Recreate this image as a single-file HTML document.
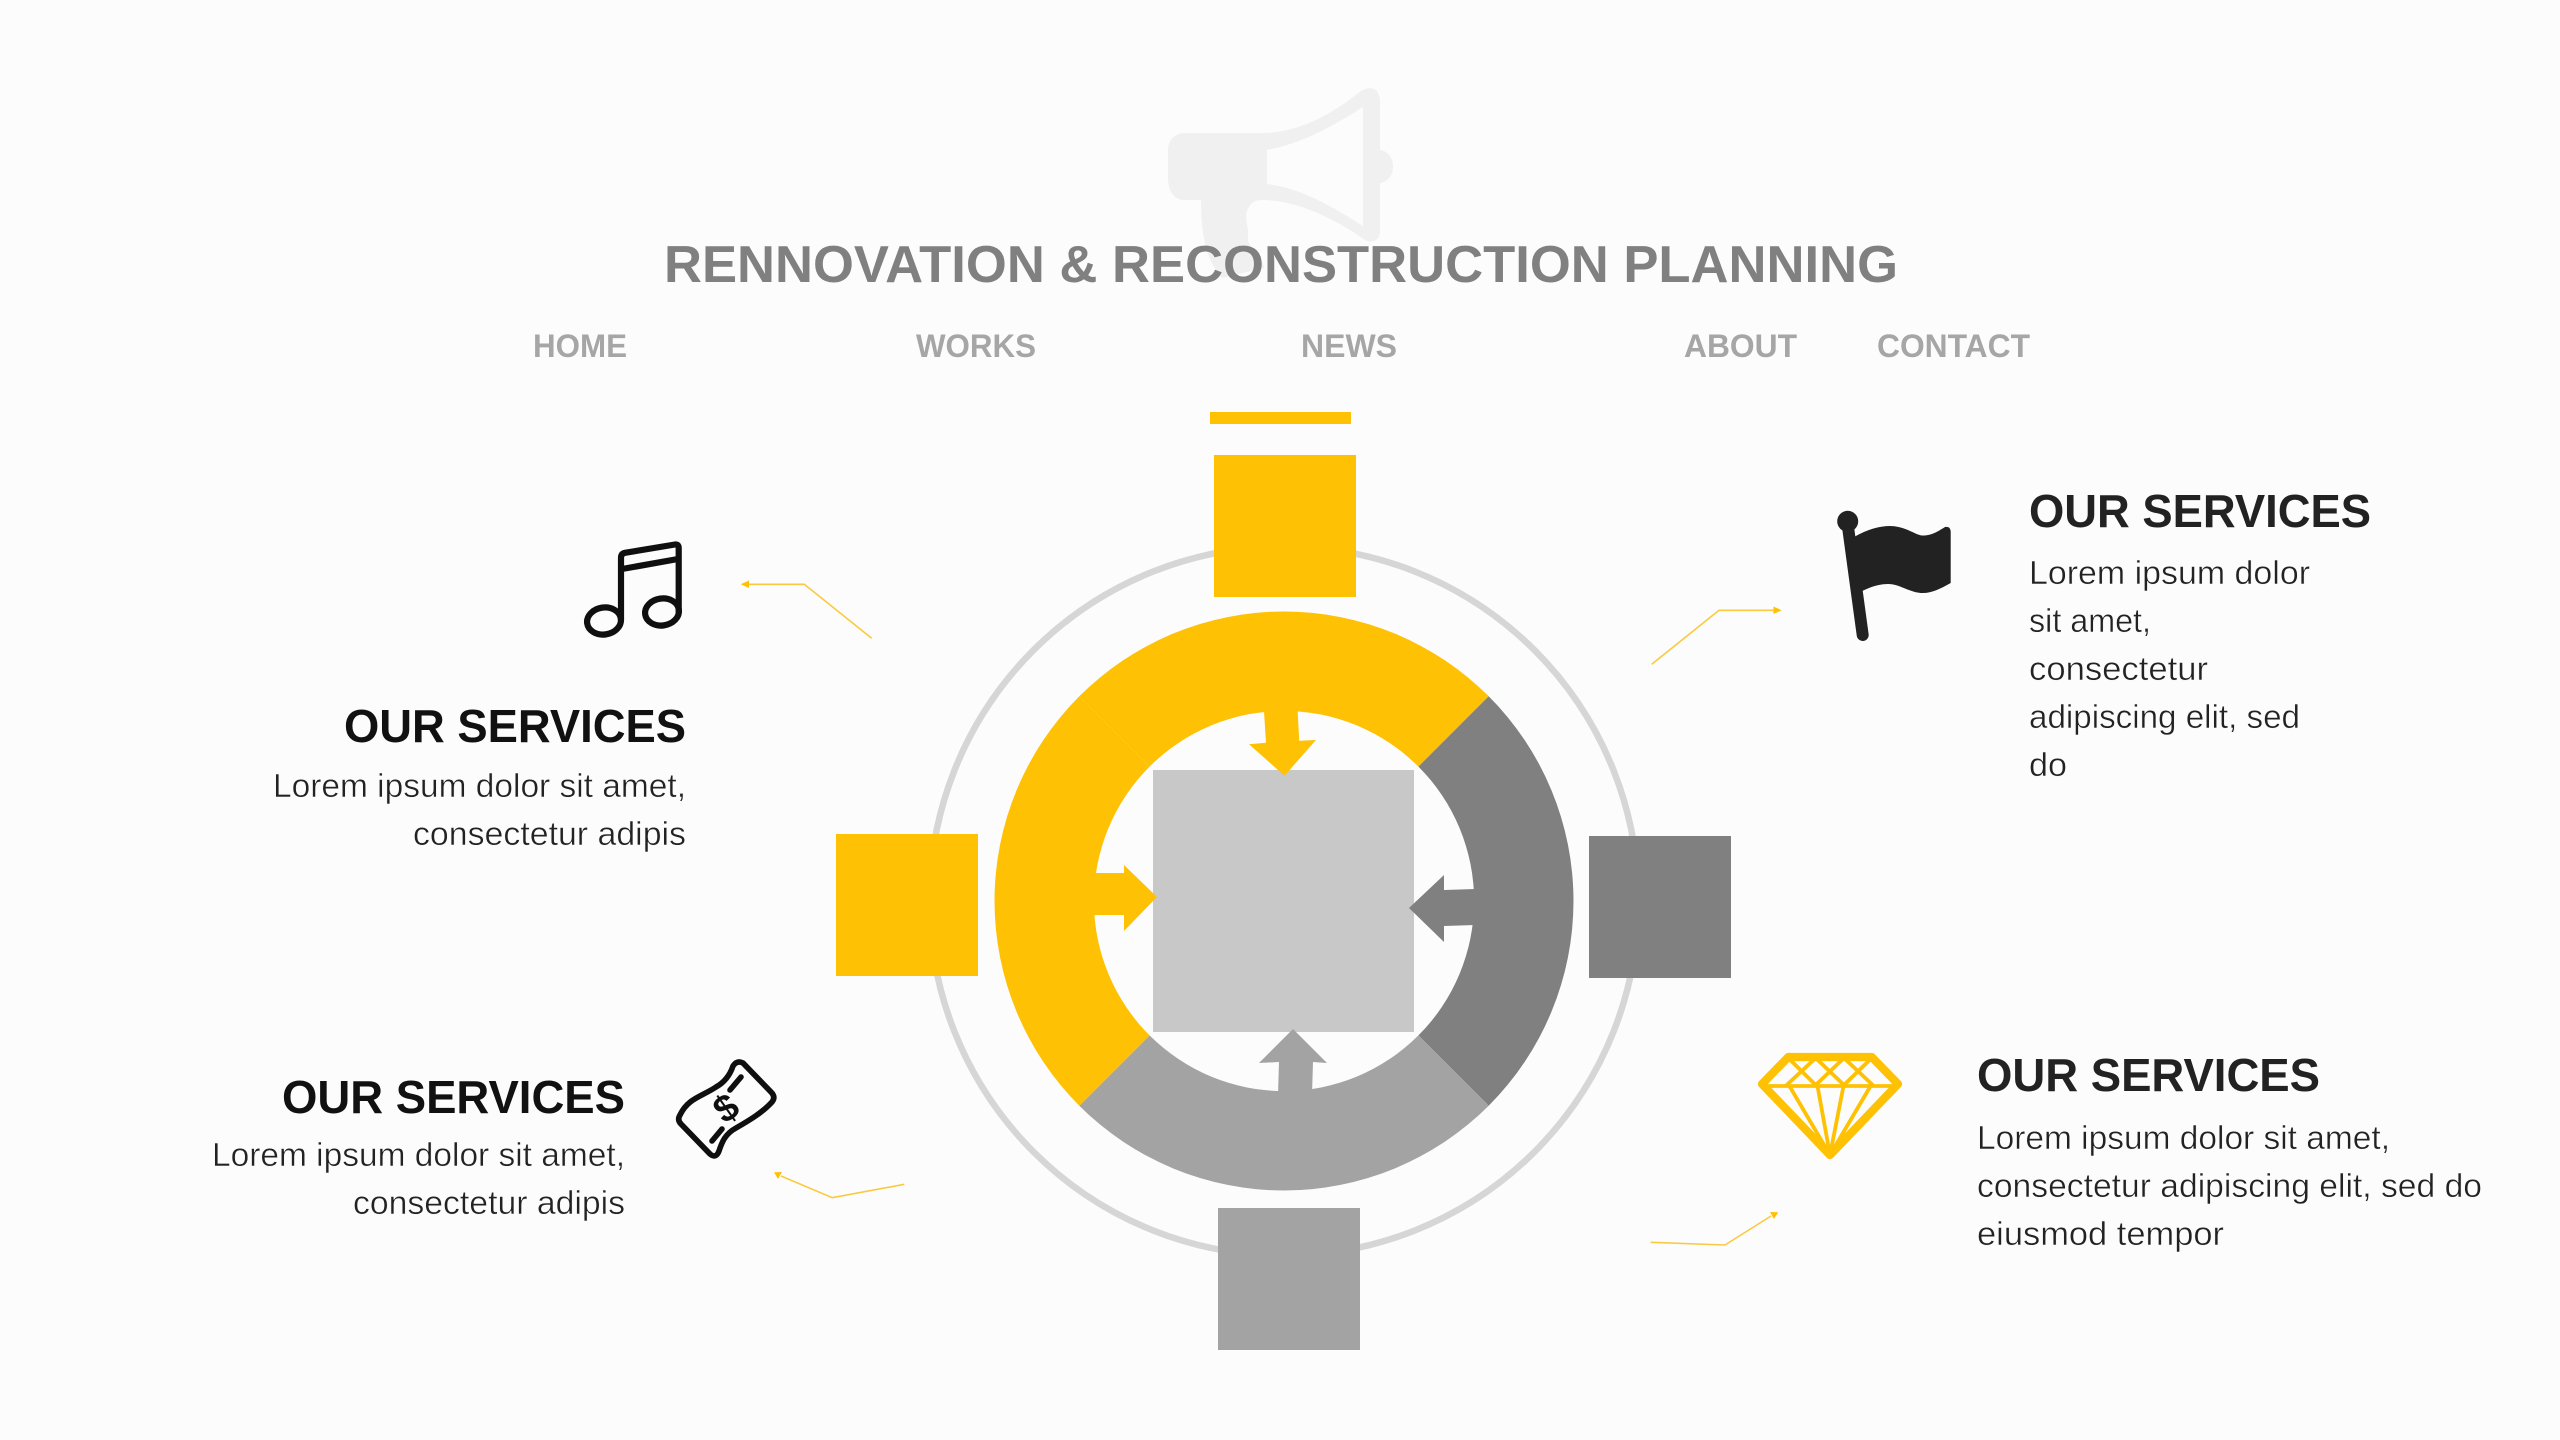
<!DOCTYPE html>
<html lang="en">
<head>
<meta charset="utf-8">
<title>Rennovation &amp; Reconstruction Planning</title>
<style>
html,body{margin:0;padding:0;background:#fcfcfc;width:2560px;height:1440px;overflow:hidden}
svg{display:block}
text{font-family:"Liberation Sans",Arial,sans-serif}
.h{font-weight:700;font-size:46px}
.b{font-size:33px;fill:#222222;stroke:#fcfcfc;stroke-width:.45px}
.n{font-weight:700;font-size:32px;fill:#a6a6a6}
</style>
</head>
<body>
<svg width="2560" height="1440" viewBox="0 0 2560 1440" xmlns="http://www.w3.org/2000/svg">
<rect width="2560" height="1440" fill="#fcfcfc"/>

<!-- megaphone watermark -->
<path fill="#f0f0f0" fill-rule="evenodd" d="M1185,133 H1262 C1300,133 1335,112 1361,91 Q1370,86 1376,90 Q1380,94 1380,102 V150 C1388,151 1393,158 1393,166 C1393,175 1388,182 1380,183 V232 C1380,240 1372,244 1365,240 C1340,222 1300,200 1262,200 C1250,200 1244,210 1247,225 C1250,235 1246,238 1249,243 C1256,256 1264,262 1264,268 L1222,278 C1208,262 1201,240 1201,200 H1185 C1170,200 1168,185 1168,178 V150 C1168,140 1175,133 1185,133 Z M1267,150 V184 C1300,188 1330,205 1363,226 V107 C1330,128 1300,144 1267,150 Z"/>

<text x="664" y="282" font-size="52" font-weight="700" fill="#808080" textLength="1234" lengthAdjust="spacingAndGlyphs">RENNOVATION &amp; RECONSTRUCTION PLANNING</text>

<text class="n" x="533" y="357" textLength="94" lengthAdjust="spacingAndGlyphs">HOME</text>
<text class="n" x="916" y="357" textLength="120" lengthAdjust="spacingAndGlyphs">WORKS</text>
<text class="n" x="1301" y="357" textLength="96" lengthAdjust="spacingAndGlyphs">NEWS</text>
<text class="n" x="1684" y="357" textLength="113" lengthAdjust="spacingAndGlyphs">ABOUT</text>
<text class="n" x="1877" y="357" textLength="153" lengthAdjust="spacingAndGlyphs">CONTACT</text>

<!-- outer thin ring -->
<circle cx="1284" cy="901" r="354.5" fill="none" stroke="#d6d6d6" stroke-width="6.5"/>

<!-- satellites -->
<rect x="1210" y="412" width="141" height="12" fill="#ffc104"/>
<rect x="1214" y="455" width="142" height="142" fill="#ffc104"/>
<rect x="836" y="834" width="142" height="142" fill="#ffc104"/>
<rect x="1589" y="836" width="142" height="142" fill="#808080"/>
<rect x="1218" y="1208" width="142" height="142" fill="#a3a3a3"/>

<!-- thick ring -->
<path fill="#ffc104" d="M1079.3,696.3 A289.5,289.5 0 0 1 1488.7,696.3 L1418.4,766.6 A190,190 0 0 0 1149.6,766.6 Z"/>
<path fill="#808080" d="M1488.7,696.3 A289.5,289.5 0 0 1 1488.7,1105.7 L1418.4,1035.4 A190,190 0 0 0 1418.4,766.6 Z"/>
<path fill="#a3a3a3" d="M1488.7,1105.7 A289.5,289.5 0 0 1 1079.3,1105.7 L1149.6,1035.4 A190,190 0 0 0 1418.4,1035.4 Z"/>
<path fill="#ffc104" d="M1079.3,1105.7 A289.5,289.5 0 0 1 1079.3,696.3 L1149.6,766.6 A190,190 0 0 0 1149.6,1035.4 Z"/>

<!-- center square -->
<rect x="1153" y="770" width="261" height="262" fill="#c8c8c8"/>

<!-- inner arrows -->
<polygon fill="#ffc104" points="1263.9,710 1266,742.7 1249,744.3 1284.5,775.7 1316,740 1299.2,740.7 1297.6,710"/>
<polygon fill="#ffc104" points="1093,873 1124,873 1124,865 1157,897 1124,931 1124,915 1093,915"/>
<polygon fill="#808080" points="1475,889 1444,890 1444,875 1409,908 1444,942 1444,926 1475,925"/>
<polygon fill="#a3a3a3" points="1278,1095 1279,1062 1259,1063 1293,1029 1327,1063 1313,1062 1312,1095"/>

<!-- leader lines -->
<g fill="none" stroke="#fbc93f" stroke-width="1.6">
<polyline points="871.7,638.3 804.3,584.3 748,584.3"/>
<polyline points="1651.7,664.3 1719,610.3 1775,610.3"/>
<polyline points="904.3,1184.3 832.3,1197.7 781,1176"/>
<polyline points="1650.7,1242.3 1725,1245 1771,1216"/>
</g>
<g fill="#ffc104">
<polygon points="740.7,584.3 749,580.5 749,588"/>
<polygon points="1781.7,610.3 1773.5,606.5 1773.5,614"/>
<polygon points="774,1172.3 782,1172 778,1179"/>
<polygon points="1778.3,1212.3 1770,1212 1774,1219"/>
</g>

<!-- music -->
<g fill="none" stroke="#0f0f0f" stroke-width="6.2" stroke-linejoin="round" stroke-linecap="round">
<ellipse cx="604" cy="621" rx="17" ry="13.5" transform="rotate(-8 604 621)"/>
<ellipse cx="662" cy="612" rx="17" ry="13.5" transform="rotate(-8 662 612)"/>
<path d="M621,620 V558 Q621,553.5 625,552.8 L675,544.5 Q678.7,544 678.7,548 V612"/>
<path d="M622,569 L678,559"/>
</g>

<!-- money -->
<g fill="none" stroke="#0f0f0f" stroke-width="5.6" stroke-linejoin="round" stroke-linecap="round">
<path d="M733,1066 Q737,1060 743,1063 L771,1092 Q776,1097 772,1102 C763,1112 750,1120 736,1128 C725,1134 722,1142 719,1151 Q716,1159 710,1154 L681,1124 Q677,1120 680,1115 C688,1098 703,1096 716,1087 C725,1082 730,1075 733,1066 Z"/>
<path d="M730,1090 L741,1077"/>
<path d="M712,1141 L722,1129"/>
</g>
<text x="726" y="1121" font-size="38" font-weight="700" fill="#0f0f0f" text-anchor="middle" transform="rotate(-35 726 1108)">$</text>

<!-- flag -->
<g fill="#222222">
<circle cx="1847.7" cy="521.3" r="10.5"/>
<path d="M1848,527 L1862.7,635" stroke="#222222" stroke-width="12" stroke-linecap="round" fill="none"/>
<path d="M1854,537 C1868,529 1880,526 1890,526 C1905,526 1915,535 1922,535.5 C1932,536 1940,530 1945,527 Q1950,526 1950.7,531 V583 C1940,589 1932,593 1923,593 C1910,593 1900,584 1888,584 C1875,584 1865,590 1860,592 Z"/>
</g>

<!-- diamond -->
<g fill="none" stroke="#ffc104" stroke-linejoin="round" stroke-linecap="round">
<polygon stroke-width="8.2" points="1788.3,1057 1871.7,1057 1898,1084 1830,1155 1762,1084"/>
<g stroke-width="3.8">
<path d="M1768,1086 H1892"/>
<path d="M1815.7,1058 L1786.7,1085 M1815.7,1058 L1844,1085 M1844,1058 L1815.7,1085 M1844,1058 L1872.7,1085 M1788.3,1058 L1815.7,1085 M1871.7,1058 L1844,1085"/>
<path d="M1790,1087 L1830,1155 M1817.7,1087 L1830,1155 M1843.3,1087 L1830,1155 M1870,1087 L1830,1155"/>
</g>
</g>

<!-- top-left text -->
<text class="h" x="344" y="742" fill="#111111" textLength="342" lengthAdjust="spacingAndGlyphs">OUR SERVICES</text>
<text class="b" x="273" y="797" textLength="413" lengthAdjust="spacingAndGlyphs">Lorem ipsum dolor sit amet,</text>
<text class="b" x="413" y="845" textLength="273" lengthAdjust="spacingAndGlyphs">consectetur adipis</text>

<!-- bottom-left text -->
<text class="h" x="282" y="1113" fill="#111111" textLength="343" lengthAdjust="spacingAndGlyphs">OUR SERVICES</text>
<text class="b" x="212" y="1166" textLength="413" lengthAdjust="spacingAndGlyphs">Lorem ipsum dolor sit amet,</text>
<text class="b" x="353" y="1214" textLength="272" lengthAdjust="spacingAndGlyphs">consectetur adipis</text>

<!-- top-right text -->
<text class="h" x="2029" y="527" fill="#222222" textLength="342" lengthAdjust="spacingAndGlyphs">OUR SERVICES</text>
<text class="b" x="2029" y="584" textLength="281" lengthAdjust="spacingAndGlyphs">Lorem ipsum dolor</text>
<text class="b" x="2029" y="632" textLength="122" lengthAdjust="spacingAndGlyphs">sit amet,</text>
<text class="b" x="2029" y="680" textLength="179" lengthAdjust="spacingAndGlyphs">consectetur</text>
<text class="b" x="2029" y="728" textLength="271" lengthAdjust="spacingAndGlyphs">adipiscing elit, sed</text>
<text class="b" x="2029" y="776" textLength="38" lengthAdjust="spacingAndGlyphs">do</text>

<!-- bottom-right text -->
<text class="h" x="1977" y="1091" fill="#222222" textLength="343" lengthAdjust="spacingAndGlyphs">OUR SERVICES</text>
<text class="b" x="1977" y="1149" textLength="413" lengthAdjust="spacingAndGlyphs">Lorem ipsum dolor sit amet,</text>
<text class="b" x="1977" y="1197" textLength="505" lengthAdjust="spacingAndGlyphs">consectetur adipiscing elit, sed do</text>
<text class="b" x="1977" y="1245" textLength="247" lengthAdjust="spacingAndGlyphs">eiusmod tempor</text>
</svg>
</body>
</html>
